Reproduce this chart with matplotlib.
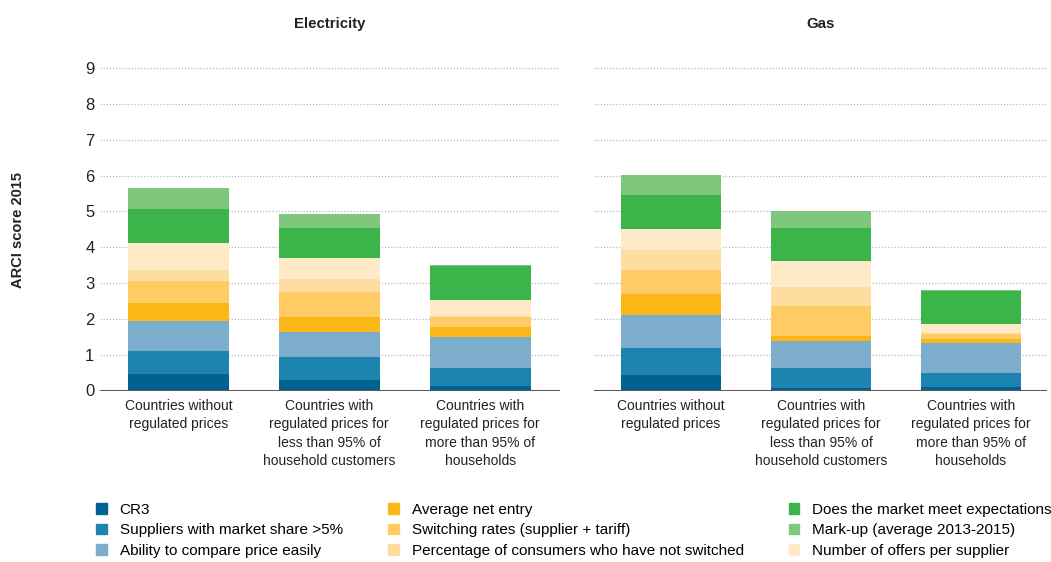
import matplotlib.pyplot as plt
import matplotlib.patches as mpatches
import numpy as np

# categories and series (stacked bottom -> top)
categories = ["Countries without\nregulated prices",
              "Countries with\nregulated prices for\nless than 95% of\nhousehold customers",
              "Countries with\nregulated prices for\nmore than 95% of\nhouseholds"]
series_names = ["CR3", "Suppliers with market share >5%", "Ability to compare price easily",
                "Average net entry", "Switching rates (supplier + tariff)",
                "Percentage of consumers who have not switched", "Number of offers per supplier",
                "Does the market meet expectations", "Mark-up (average 2013-2015)"]
colors = ["#006192", "#1d84b0", "#7dadcd", "#fbb718", "#ffcb65", "#fddda0", "#feeac6",
          "#3bb54a", "#80c77e"]

elec_cr3 = [0.47, 0.30, 0.13]
elec_suppliers = [0.64, 0.64, 0.50]
elec_compare = [0.84, 0.70, 0.87]
elec_entry = [0.50, 0.42, 0.28]
elec_switching = [0.61, 0.70, 0.28]
elec_not_switched = [0.31, 0.36, 0.03]
elec_offers = [0.75, 0.59, 0.44]
elec_expectations = [0.95, 0.83, 0.95]
elec_markup = [0.59, 0.39, 0.03]

gas_cr3 = [0.44, 0.07, 0.10]
gas_suppliers = [0.75, 0.56, 0.39]
gas_compare = [0.91, 0.76, 0.84]
gas_entry = [0.60, 0.14, 0.11]
gas_switching = [0.67, 0.84, 0.14]
gas_not_switched = [0.56, 0.53, 0.03]
gas_offers = [0.59, 0.73, 0.25]
gas_expectations = [0.95, 0.92, 0.93]
gas_markup = [0.56, 0.47, 0.02]

elec = [elec_cr3, elec_suppliers, elec_compare, elec_entry, elec_switching,
        elec_not_switched, elec_offers, elec_expectations, elec_markup]
gas = [gas_cr3, gas_suppliers, gas_compare, gas_entry, gas_switching,
       gas_not_switched, gas_offers, gas_expectations, gas_markup]

font = ["Liberation Sans", "DejaVu Sans"]
txt_col = "#222222"

fig = plt.figure(figsize=(10.51, 5.62), dpi=100)
ax1 = fig.add_axes([100 / 1051, 171.5 / 562, 460 / 1051, 333 / 562])
ax2 = fig.add_axes([594 / 1051, 171.5 / 562, 453 / 1051, 333 / 562])


def draw_panel(ax, data, title, xlim):
    x = np.arange(len(categories))
    bottom = np.zeros(len(categories))
    for vals, col in zip(data, colors):
        ax.bar(x, vals, 0.67, bottom=bottom, color=col, zorder=3)
        bottom += np.array(vals)
    ax.set_ylim(0, 9.3)
    ax.set_xlim(*xlim)
    for s in ax.spines.values():
        s.set_visible(False)
    for g in range(1, 10):
        ax.axhline(g, color="#bbbbbb", lw=0.9, ls=(0, (1, 1.5)), zorder=1)
    ax.axhline(0, color="#5a5a5a", lw=2.2, zorder=4)
    ax.set_xticks(x)
    ax.set_xticklabels(categories, family=font, fontsize=10, color=txt_col,
                       linespacing=1.4)
    ax.tick_params(axis="x", length=0, pad=6)
    ax.set_yticks(range(10))
    ax.tick_params(axis="y", length=0, pad=4)
    ax.set_title(title, fontsize=10.8, fontweight="bold", family=font, pad=21,
                 color=txt_col)


draw_panel(ax1, elec, "Electricity", (-0.52, 2.53))
draw_panel(ax2, gas, "Gas", (-0.513, 2.507))
for lab in ax1.get_yticklabels():
    lab.set_family(font)
    lab.set_fontsize(12)
    lab.set_color(txt_col)
ax2.set_yticklabels([])

fig.text(18 / 1051, 1 - 230 / 562, "ARCI score 2015", rotation=90, ha="center", va="center",
         fontsize=10.5, fontweight="bold", family=font, color=txt_col)

legend_order = [0, 1, 2, 3, 4, 5, 7, 8, 6]
handles = [mpatches.Patch(color=colors[i], label=series_names[i]) for i in legend_order]
fig.legend(handles=handles, ncol=3, loc="upper left", bbox_to_anchor=(96 / 1051, 1 - 503 / 562),
           frameon=False, prop={"family": font, "size": 11}, handlelength=0.7,
           handleheight=0.7, handletextpad=0.85, columnspacing=2.95, labelspacing=0.42,
           borderaxespad=0, borderpad=0)

fig.savefig("out.png", dpi=100)
